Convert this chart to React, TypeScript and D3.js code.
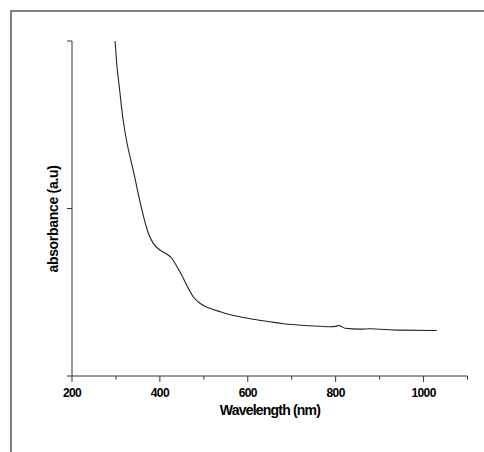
import React from "react";
import * as d3 from "d3";

const wavelength = [298, 301.7, 307.6, 315.4, 324.5, 336, 343.4, 353, 362, 373.7, 385, 400, 415.5, 427, 438, 449.6, 461, 476, 491, 514, 544, 582, 620, 650, 681, 742, 787, 800, 806, 812, 821, 855, 878, 901, 943, 1030];
const absorbance = [2.0, 1.867, 1.727, 1.548, 1.4, 1.265, 1.18, 1.06, 0.96, 0.852, 0.792, 0.752, 0.728, 0.703, 0.657, 0.603, 0.543, 0.473, 0.434, 0.404, 0.378, 0.354, 0.336, 0.324, 0.312, 0.3, 0.294, 0.296, 0.302, 0.297, 0.285, 0.28, 0.282, 0.279, 0.274, 0.272];
const xMajorTicks = [200, 400, 600, 800, 1000];
const xMinorTicks = [300, 500, 700, 900, 1100];
const yTicks = [0, 1, 2];

const W = 484;
const H = 452;

export default function App() {
  const x = d3.scaleLinear().domain([200, 1100]).range([72, 467.5]);
  const y = d3.scaleLinear().domain([0, 2]).range([376, 41]);
  const pts: [number, number][] = wavelength.map((w, i) => [w, absorbance[i]]);
  const line = d3
    .line<[number, number]>()
    .x((d) => x(d[0]))
    .y((d) => y(d[1]))
    .curve(d3.curveMonotoneX);
  const font = "'Liberation Sans', Arial, sans-serif";
  const axisColor = "#333";
  return (
    <svg width={W} height={H} style={{ position: "absolute", left: 0, top: 0, background: "#fff" }}>
      <rect x={0} y={0} width={W} height={H} fill="#fff" />
      <line x1={11} y1={11} x2={W} y2={11} stroke="#808080" strokeWidth={2} />
      <line x1={11} y1={10} x2={11} y2={H} stroke="#808080" strokeWidth={2} />
      <line x1={72} y1={y(2)} x2={72} y2={y(0)} stroke={axisColor} strokeWidth={1} />
      {yTicks.map((t) => (
        <line key={"yt" + t} x1={67} x2={72} y1={y(t)} y2={y(t)} stroke={axisColor} strokeWidth={1} />
      ))}
      <line x1={72} y1={376} x2={x(1100)} y2={376} stroke={axisColor} strokeWidth={1} />
      {xMajorTicks.map((t) => (
        <line key={"xM" + t} x1={x(t)} x2={x(t)} y1={376} y2={382} stroke={axisColor} strokeWidth={1} />
      ))}
      {xMinorTicks.map((t) => (
        <line key={"xm" + t} x1={x(t)} x2={x(t)} y1={376} y2={379.5} stroke={axisColor} strokeWidth={1} />
      ))}
      {xMajorTicks.map((t) => (
        <text
          key={"xl" + t}
          x={x(t)}
          y={396.5}
          textAnchor="middle"
          fontFamily={font}
          fontWeight="bold"
          fontSize={12}
          letterSpacing={-0.6}
          fill="#000"
        >
          {t}
        </text>
      ))}
      <text
        x={270}
        y={415}
        textAnchor="middle"
        fontFamily={font}
        fontWeight="bold"
        fontSize={14}
        letterSpacing={-0.8}
        fill="#000"
      >
        Wavelength (nm)
      </text>
      <text
        transform={`translate(58,219) rotate(-90)`}
        textAnchor="middle"
        fontFamily={font}
        fontWeight="bold"
        fontSize={14}
        letterSpacing={-0.3}
        fill="#000"
      >
        absorbance (a.u)
      </text>
      <path d={line(pts) || ""} fill="none" stroke="#222" strokeWidth={1.1} />
    </svg>
  );
}
